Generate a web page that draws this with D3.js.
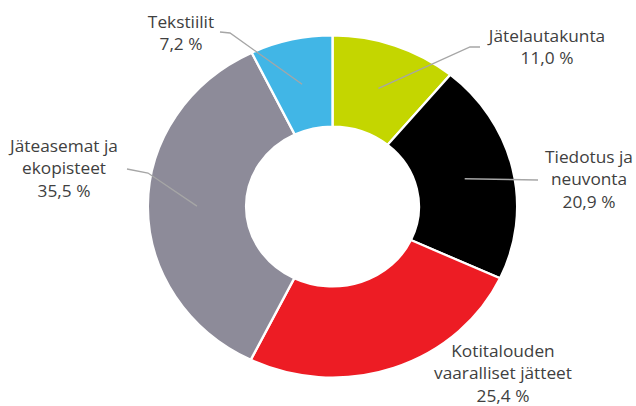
<!DOCTYPE html>
<html>
<head>
<meta charset="utf-8">
<script src="https://cdn.jsdelivr.net/npm/d3@7"></script>
<style>
  body { margin: 0; background: #fff; }
  svg { display: block; }
  text { font-family: "Open Sans", sans-serif; font-size: 16px; fill: #404040; }
</style>
</head>
<body>
<svg id="chart" width="636" height="406"></svg>
<script>
// slices, clockwise from 12 o'clock
const categories = ["Jätelautakunta", "Tiedotus ja neuvonta", "Kotitalouden vaaralliset jätteet", "Jäteasemat ja ekopisteet", "Tekstiilit"];
const values = [11.0, 20.9, 25.4, 35.5, 7.2];
const colors = ["#c4d600", "#000000", "#ed1c24", "#8d8b99", "#41b6e6"];

// label lines as they are broken in the picture
const labelLines = [
    ["Jätelautakunta"],
    ["Tiedotus ja", "neuvonta"],
    ["Kotitalouden", "vaaralliset jätteet"],
    ["Jäteasemat ja", "ekopisteet"],
    ["Tekstiilit"]
];

// layout: label anchor (centre x, first baseline) and leader line end points
const labelPos = [
    { x: 547, y: 42, leader: [[470, 47], [480, 47]] },
    { x: 589, y: 163, leader: [[538, 180]] },
    { x: 503, y: 357, leader: null },
    { x: 64, y: 152, leader: [[148, 173], [127, 169]] },
    { x: 181, y: 28, leader: [[230, 33], [220, 32]] }
];

const cx = 332.5, cy = 206.5;
const outerR = 171, innerR = 80;
const stretch = 1.08; // picture is a bit wider than tall
const lineH = 22.5;

const fmt = v => d3.format(".1f")(v).replace(".", ",") + " %";

const svg = d3.select("#chart");

const pie = d3.pie().sort(null).value(d => d);
const arcs = pie(values);
const arc = d3.arc().innerRadius(innerR).outerRadius(outerR);

const g = svg.append("g")
    .attr("transform", `translate(${cx},${cy}) scale(${stretch},1)`);

g.selectAll("path")
    .data(arcs)
    .enter().append("path")
    .attr("d", arc)
    .attr("fill", (d, i) => colors[i])
    .attr("stroke", "#fff")
    .attr("stroke-width", 2.2);

// leader lines start from slice centroids
const line = d3.line();
svg.selectAll("path.leader")
    .data(arcs.filter((d, i) => labelPos[i].leader))
    .enter().append("path")
    .attr("class", "leader")
    .attr("d", d => {
        const c = arc.centroid(d);
        const start = [cx + c[0] * stretch, cy + c[1]];
        return line([start].concat(labelPos[d.index].leader));
    })
    .attr("fill", "none")
    .attr("stroke", "#a6a6a6")
    .attr("stroke-width", 1.3);

// labels get the same horizontal stretch as the ring
const labels = svg.selectAll("text.label")
    .data(arcs)
    .enter().append("text")
    .attr("class", "label")
    .attr("text-anchor", "middle")
    .attr("transform", d => `translate(${labelPos[d.index].x},${labelPos[d.index].y}) scale(${stretch},1)`);

labels.each(function(d) {
    const t = d3.select(this);
    const rows = labelLines[d.index].concat([fmt(d.data)]);
    rows.forEach((r, j) => {
        t.append("tspan")
            .attr("x", 0)
            .attr("dy", j === 0 ? 0 : lineH)
            .text(r);
    });
});
</script>
</body>
</html>
